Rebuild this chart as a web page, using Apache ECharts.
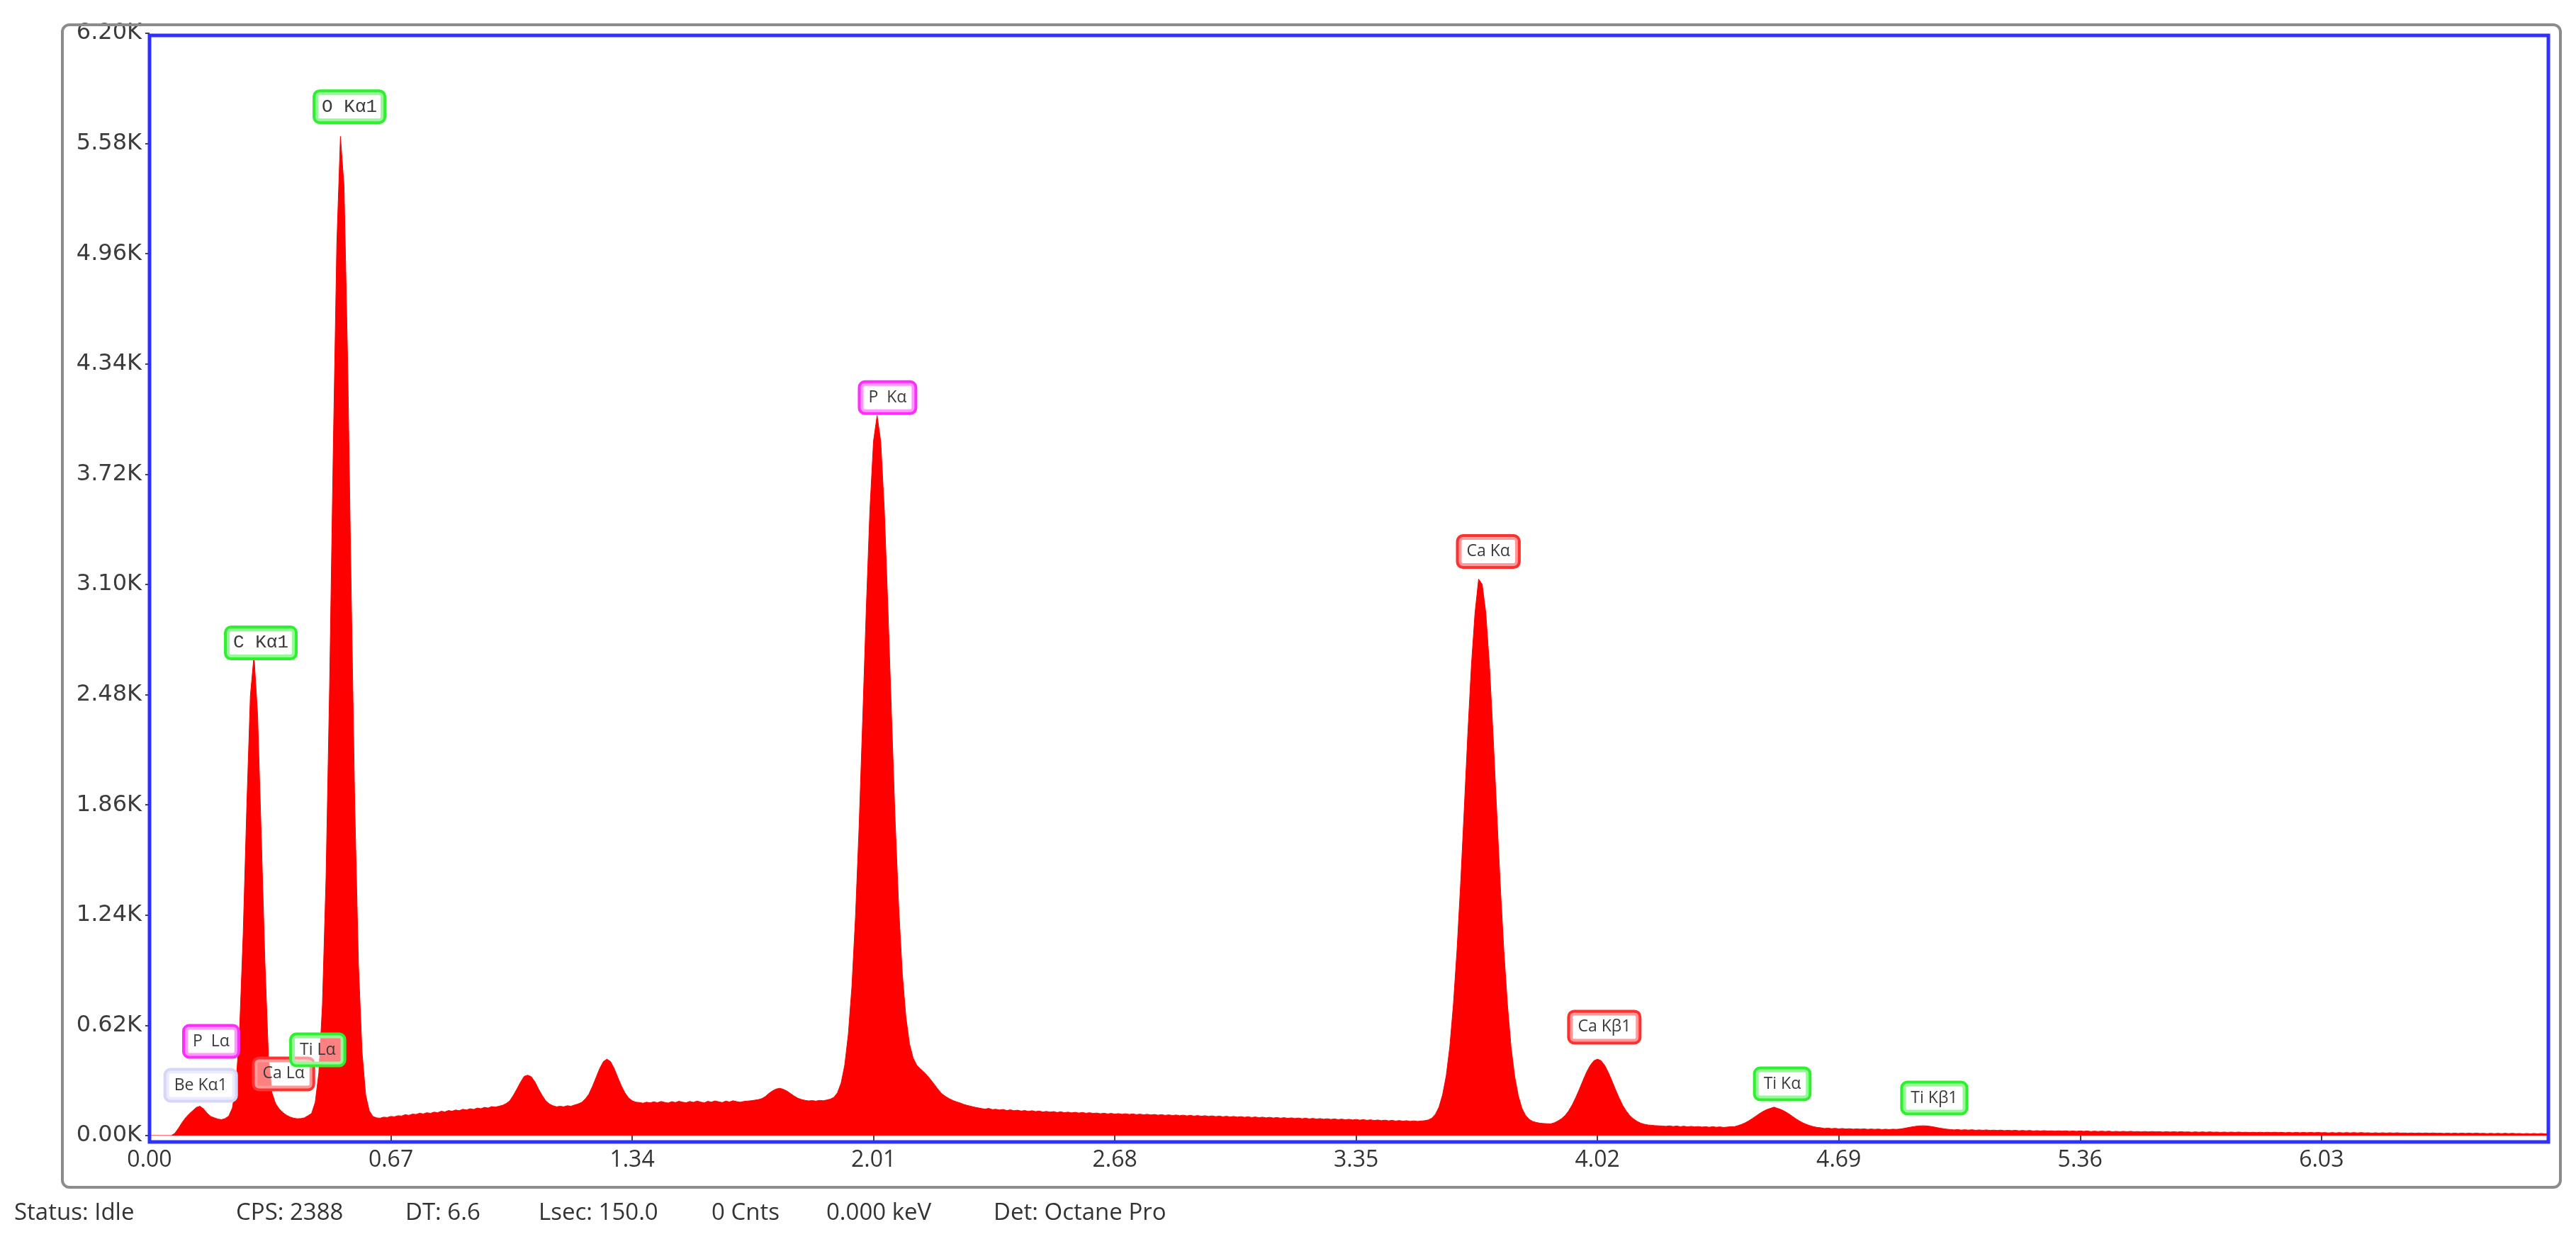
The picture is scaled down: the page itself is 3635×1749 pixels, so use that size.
<!DOCTYPE html>
<html><head><meta charset="utf-8">
<script src="https://cdn.jsdelivr.net/npm/echarts@6/dist/echarts.min.js"></script>
<style>html,body{margin:0;padding:0;background:#fff}#c{width:3635px;height:1749px}</style>
</head><body><div id="c"></div>
<script>
// ---- spectrum: channel calibration and counts per channel ----
const channelStartKeV = 0.00;
const channelWidthKeV = 0.01;
const counts = [
  0,0,0,0,0,0,0,12,40,72,
  100,122,140,158,165,150,126,108,100,93,
  90,96,110,155,285,590,1135,1850,2475,2700,
  2370,1700,1000,450,240,180,150,130,115,105,
  98,95,96,100,112,125,187,353,735,1447,
  2534,3848,5018,5620,5340,4360,3045,1835,965,470,
  230,140,108,100,98,104,102,108,106,112,
  110,118,114,121,119,126,122,129,125,132,
  129,137,133,141,137,144,140,148,144,151,
  147,155,151,159,155,163,160,165,170,180,
  195,226,262,300,333,340,331,302,262,226,
  196,178,168,162,165,162,168,165,172,178,
  187,206,234,278,328,378,416,430,416,378,
  328,280,240,212,196,188,186,182,188,184,
  190,185,192,187,183,191,186,193,188,185,
  192,187,194,189,184,193,188,195,190,186,
  194,189,196,191,188,192,194,196,199,202,
  208,220,238,252,262,266,260,250,236,222,
  210,203,198,195,197,194,198,196,200,205,
  215,241,295,395,568,838,1231,1739,2343,2967,
  3521,3906,4050,3906,3521,2967,2365,1774,1283,911,
  665,516,436,396,375,358,336,311,285,258,
  235,220,208,198,190,184,176,170,165,160,
  156,152,149,153,146,148,144,147,141,145,
  140,143,138,141,136,140,135,138,133,136,
  132,135,130,134,129,132,128,131,127,130,
  126,129,125,127,123,126,122,125,121,124,
  120,123,119,122,118,121,117,120,116,119,
  115,118,114,117,113,116,112,115,111,114,
  110,113,109,112,108,111,107,110,106,109,
  105,108,104,107,103,106,102,105,101,104,
  100,103,99,102,98,101,97,100,96,99,
  95,98,94,97,93,96,92,95,91,94,
  90,93,89,92,88,91,87,90,86,89,
  85,88,84,87,83,86,82,85,81,84,
  80,83,80,82,84,88,98,120,160,230,
  335,500,738,1043,1415,1833,2260,2647,2940,3130,
  3100,2940,2647,2260,1833,1415,1043,738,500,335,
  226,155,115,92,80,74,70,68,67,66,
  72,82,95,113,139,173,215,262,311,358,
  395,421,430,421,395,356,309,259,212,170,
  138,112,94,80,70,64,60,58,56,55,
  54,52,55,51,54,50,53,49,52,49,
  51,48,50,47,50,47,49,46,48,50,
  50,56,63,72,83,96,110,124,136,146,
  153,160,153,146,136,124,110,96,83,72,
  63,56,50,46,44,40,42,39,41,38,
  40,37,39,36,38,36,38,35,37,35,
  37,34,36,34,36,35,37,40,44,48,
  51,54,55,55,53,50,46,42,39,36,
  34,32,34,31,33,31,33,30,32,30,
  32,29,31,29,31,28,30,28,30,27,
  29,27,29,26,28,26,28,26,27,25,
  27,25,27,24,26,24,26,24,26,23,
  25,23,25,23,25,22,24,22,24,22,
  24,22,23,21,23,21,23,21,22,20,
  22,20,22,20,22,20,21,19,21,19,
  21,19,21,19,20,18,20,18,20,18,
  20,18,19,17,19,17,19,17,19,17,
  19,17,18,16,18,16,18,16,18,16,
  18,16,18,16,17,15,17,15,17,15,
  17,15,17,15,17,15,16,14,16,14,
  16,14,16,14,16,14,15,13,15,13,
  15,13,15,13,15,13,14,12,14,12,
  14,12,14,12,14,12,14,12,13,11,
  13,11,13,11,13,11,13,11,12,10,
  12,10,12,10,12,10,11
];

// ---- axes ----
const xMinKeV = 0;
const xMaxKeV = 6.66;
const xTickStepKeV = 0.67;
const yMin = 0;
const yMax = 6200;
const yTickStep = 620;

// ---- peak identification labels (name, energy, label anchor height in counts) ----
const peakNames = ['O Kα1','C Kα1','P  Kα','Ca Kα','Ca Kβ1','Ti Kα','Ti Kβ1','P  Lα','Be Kα1','Ca Lα','Ti Lα'];
const peakKeV = [0.555, 0.309, 2.049, 3.717, 4.039, 4.533, 4.955, 0.171, 0.142, 0.372, 0.467];
const peakLabelCounts = [5787, 2771, 4151, 3285, 610, 291, 211, 530, 283, 347, 482];

// ---- status bar ----
const statusItems = ['Status: Idle','CPS: 2388','DT: 6.6','Lsec: 150.0','0 Cnts','0.000 keV','Det: Octane Pro'];

// ---- styles ----
const elementColor = {O:'#2ef02e', C:'#2ef02e', Ti:'#2ef02e', P:'#ff2eff', Ca:'#ff3030', Be:'#d6d6fa'};
const statusX = [20, 333, 572, 760, 1004, 1166, 1402];

const spectrum = counts.map((c, i) => [channelStartKeV + i * channelWidthKeV, c]);

const labelData = peakNames.map((n, i) => {
  const el = n.split(' ')[0];
  const mono = (el === 'O' || el === 'C');
  return {
    name: n,
    value: [peakKeV[i], peakLabelCounts[i]],
    label: {
      borderColor: elementColor[el],
      fontFamily: mono ? 'Liberation Mono' : 'Open Sans',
      fontSize: mono ? 26 : 23,
      padding: mono ? [9, 9, 8, 9] : [9, 11, 8, 11]
    }
  };
});

const chart = echarts.init(document.getElementById('c'), null, {renderer: 'canvas'});
chart.setOption({
  animation: false,
  backgroundColor: '#ffffff',
  grid: {left: 211, top: 47, right: 3635 - 3596, bottom: 1749 - 1603, containLabel: false},
  xAxis: {
    type: 'value', min: xMinKeV, max: xMaxKeV, interval: xTickStepKeV,
    offset: 9,
    axisLine: {show: false},
    axisTick: {show: true, length: 7, lineStyle: {color: '#444', width: 2}},
    splitLine: {show: false},
    axisLabel: {
      margin: 10, fontSize: 32, fontFamily: 'Open Sans', color: '#333',
      formatter: v => {
        const k = v / xTickStepKeV;
        return Math.abs(k - Math.round(k)) < 1e-6 ? v.toFixed(2) : '';
      }
    }
  },
  yAxis: {
    type: 'value', min: yMin, max: yMax, interval: yTickStep,
    axisLine: {show: false},
    axisTick: {show: true, length: 6, lineStyle: {color: '#444', width: 2}},
    splitLine: {show: false},
    axisLabel: {
      margin: 11, fontSize: 32, fontFamily: 'DejaVu Sans', color: '#3c3c3c',
      padding: [8, 0, 0, 0],
      formatter: v => (v / 1000).toFixed(2) + 'K'
    }
  },
  series: [
    {
      type: 'line', data: spectrum, showSymbol: false, symbol: 'none',
      lineStyle: {color: '#ff0000', width: 1},
      areaStyle: {color: '#ff0000', opacity: 1},
      itemStyle: {color: '#ff0000'},
      z: 2, silent: true
    },
    {
      type: 'scatter', data: labelData, symbolSize: 1,
      itemStyle: {color: 'rgba(0,0,0,0)', opacity: 1}, z: 5, silent: true,
      label: {
        show: true, position: 'inside', formatter: p => p.data.name,
        color: '#3a3a3a', backgroundColor: 'rgba(255,255,255,0.5)',
        borderWidth: 4, borderRadius: 6, lineHeight: 24
      }
    }
  ],
  graphic: [
    {type: 'rect', z: 100, silent: true,
     shape: {x: 88, y: 35, width: 3525, height: 1641, r: 10},
     style: {fill: 'none', stroke: '#8c8c8c', lineWidth: 4}},
    {type: 'rect', z: 100, silent: true,
     shape: {x: 211, y: 50, width: 3385, height: 1562},
     style: {fill: 'none', stroke: '#2f2fff', lineWidth: 5}}
  ].concat(statusItems.map((t, i) => ({
    type: 'text', z: 100, silent: true, x: statusX[i], y: 1713,
    style: {text: t, fill: '#333', font: '33px "Open Sans"', textVerticalAlign: 'middle', verticalAlign: 'middle'}
  })))
});
</script>
</body></html>
